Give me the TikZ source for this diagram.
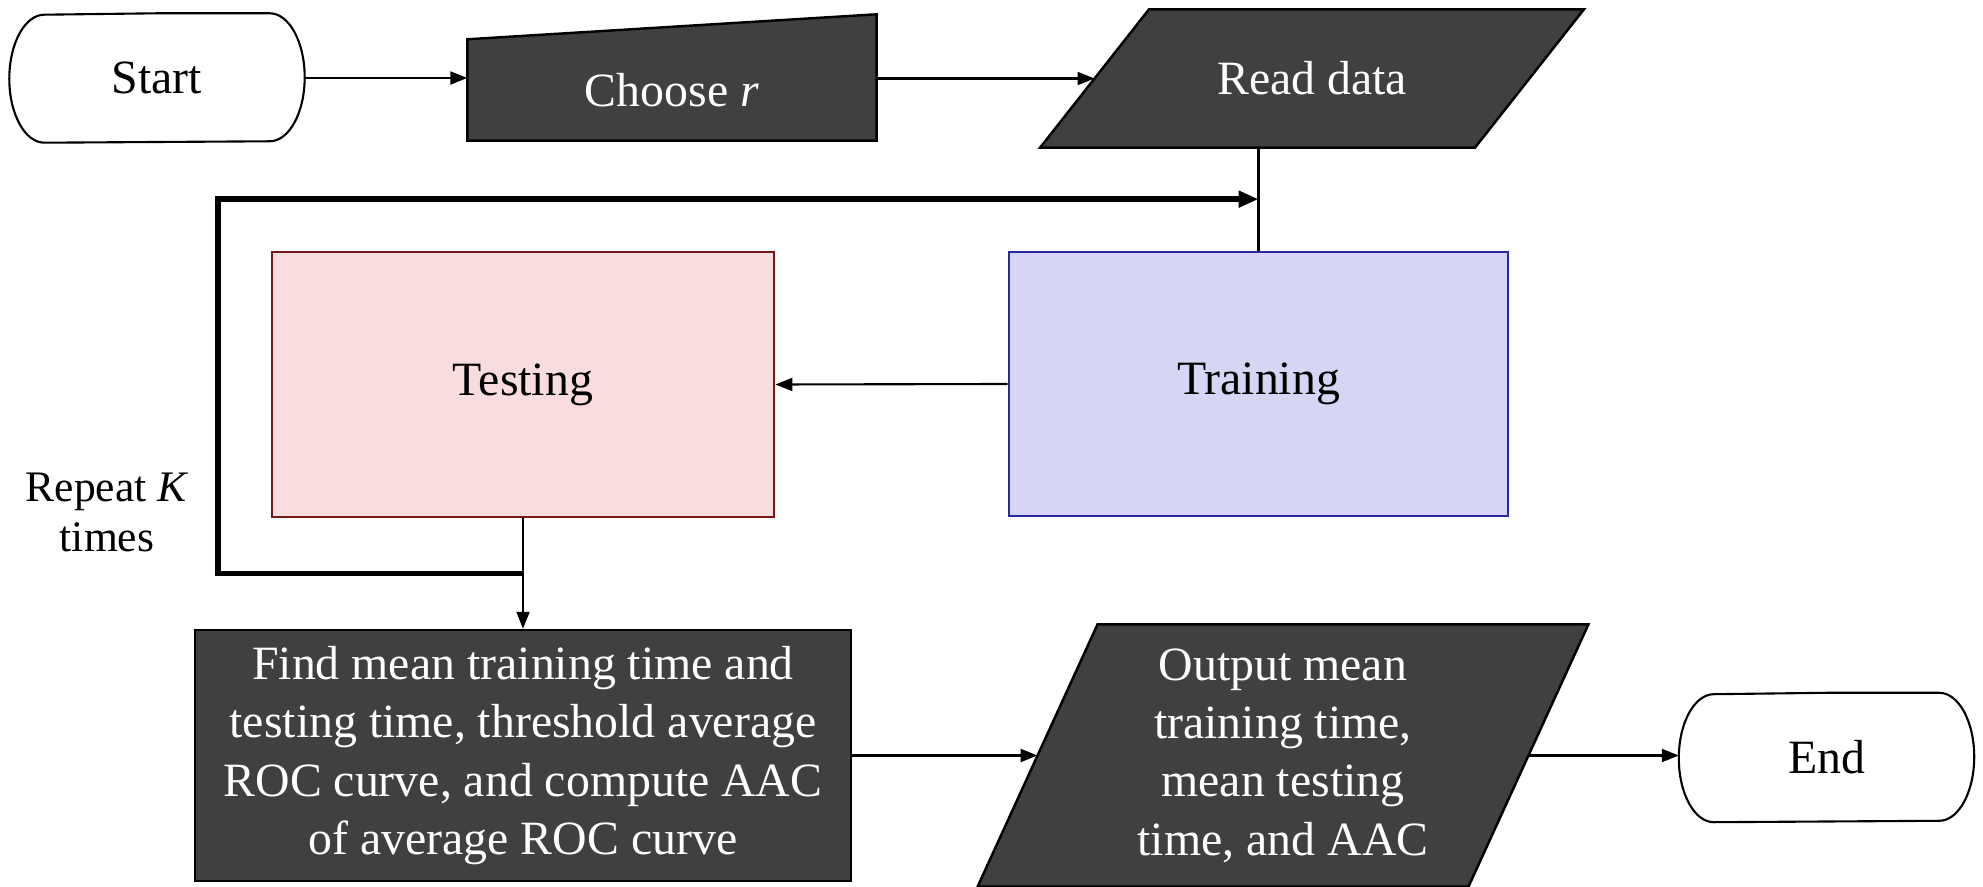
\documentclass[tikz,border=0pt]{standalone}
\usepackage{fontspec}
\setmainfont{Liberation Serif}
\usetikzlibrary{arrows.meta,calc,backgrounds}
\definecolor{boxdark}{RGB}{64,64,64}
\definecolor{testfill}{RGB}{248,220,222}
\definecolor{testline}{RGB}{115,25,25}
\definecolor{trainfill}{RGB}{214,214,244}
\definecolor{trainline}{RGB}{40,40,160}
\tikzset{
  term/.style={minimum width=29.4mm,minimum height=12.8mm,inner sep=0pt},
  dark/.style={draw=black,fill=boxdark,line width=0.7pt},
  io/.style={inner sep=0pt,text=white,align=center},
  proc/.style={rectangle,draw,line width=0.8pt,inner sep=0pt,align=center},
  edge/.style={-{Triangle[length=1.7mm,width=1.3mm]},line width=0.6pt},
  loopedge/.style={-{Triangle[length=2mm,width=1.6mm]},line width=1.6pt},
}

\begin{document}
\begin{tikzpicture}[font=\fontsize{13.6}{16.6}\selectfont]
\useasboundingbox (0,0) rectangle (19.83,8.86);

% Nodes
\node[term] (start) at (1.57,8.08) {Start};
\node[io,minimum width=40.8mm,minimum height=10mm] (choose) at (6.72,7.96) {Choose \textit{r}};
\node[io,minimum width=43.35mm,minimum height=13.7mm] (read) at (13.12,8.075) {Read data};
\node[proc,draw=testline,fill=testfill,minimum width=50.2mm,minimum height=26.5mm] (testing) at (5.23,5.015) {Testing};
\node[proc,draw=trainline,fill=trainfill,minimum width=49.9mm,minimum height=26.4mm] (training) at (12.585,5.02) {Training};
\node[proc,dark,text=white,minimum width=65.6mm,minimum height=25.1mm] (find) at (5.23,1.305)
  {Find mean training time and\\testing time, threshold average\\ROC curve, and compute AAC\\of average ROC curve};
\node[io,minimum width=48.95mm,minimum height=26.1mm] (output) at (12.83,1.305)
  {Output mean\\training time,\\mean testing\\time, and AAC};
\node[term] (end) at (18.265,1.285) {End};
\node[align=center,font=\fontsize{12.4}{14.2}\selectfont] (repeat) at (1.07,3.74) {Repeat \textit{K}\\times};

% Shapes behind the texts
\begin{scope}[on background layer]
\foreach \n in {start,end}
  \draw[line width=0.6pt,fill=white] (\n.north) -- ([xshift=-3.5mm]\n.north east)
    arc[start angle=90,end angle=-90,x radius=3.5mm,y radius=6.4mm] -- ([xshift=3.5mm]\n.south west)
    arc[start angle=270,end angle=90,x radius=3.5mm,y radius=6.4mm] -- cycle;
\draw[dark] (choose.south west) -- (choose.south east) -- ($(choose.north east)+(0,0.25)$) -- (choose.north west) -- cycle;
\foreach \n/\s in {read/0.545,output/0.60}
  \draw[dark] ($(\n.south west)+(-\s,0)$) -- ($(\n.south east)+(-\s,0)$)
    -- ($(\n.north east)+(\s,0)$) -- ($(\n.north west)+(\s,0)$) -- cycle;
\end{scope}

% Connectors
\draw[edge] (start.east) -- (start.east -| choose.west);
\draw[edge] (choose.east |- read.west) -- (read.west);
\draw[line width=0.6pt] (read.south -| training.north) -- (training.north);
\draw[edge] (training.west) -- (testing.east);
\draw[edge] (testing.south) -- (find.north);
\draw[edge] (find.east) -- (output.west);
\draw[edge] (output.east) -- (output.east -| end.west);

% Repeat loop
\coordinate (looptop) at ($(read.south -| training.north)!0.5!(training.north)$);
\coordinate (loopbot) at ($(testing.south)!0.5!(find.north)$);
\draw[loopedge] (loopbot) -- ++(-3.05,0) |- (looptop);
\end{tikzpicture}
\end{document}
